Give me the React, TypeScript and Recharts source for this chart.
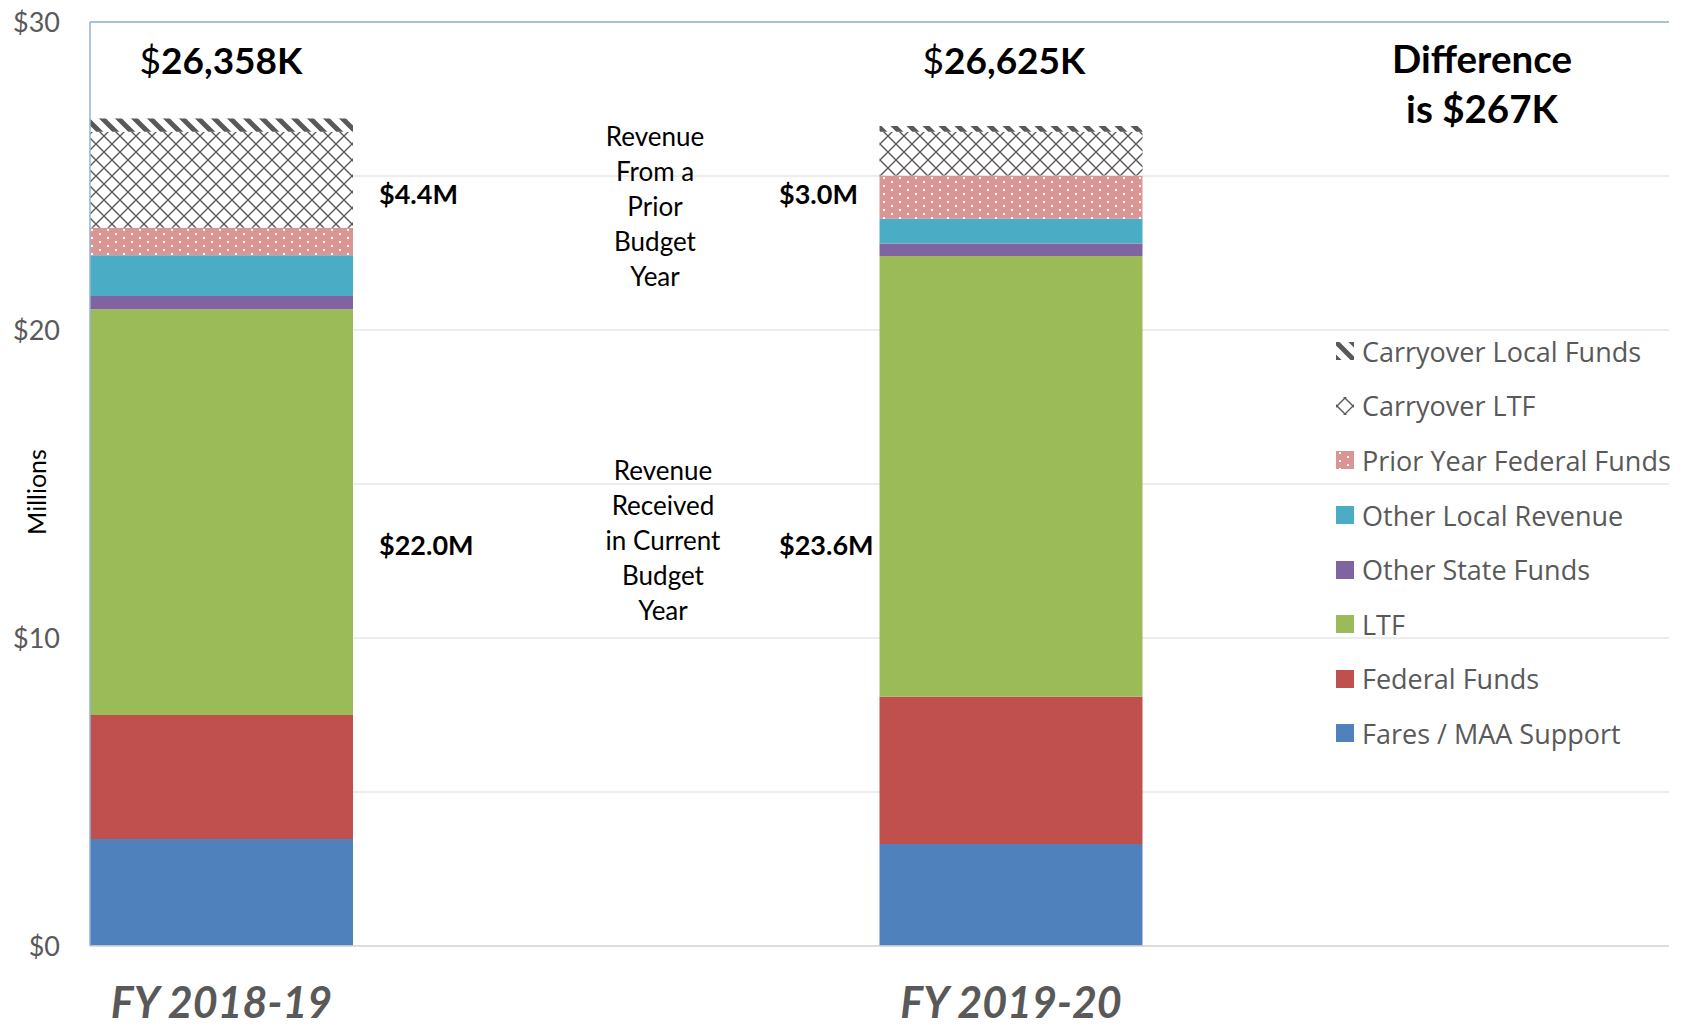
import React from "react";
import { BarChart, Bar, XAxis, YAxis, CartesianGrid, ReferenceLine } from "recharts";

// six equal bands: bars sit in the 1st and 4th, the rest is room for notes + legend
const categories = ["FY 2018-19", "gap-1", "gap-2", "FY 2019-20", "gap-3", "gap-4"];
const fiscalYears = ["FY 2018-19", "FY 2019-20"];

// $ millions (bottom of stack first)
const faresMaa = [3.47, 3.31];
const federalFunds = [4.03, 4.78];
const ltf = [13.17, 14.31];
const otherStateFunds = [0.43, 0.41];
const otherLocalRevenue = [1.33, 0.8];
const priorYearFederal = [0.89, 1.41];
const carryoverLtf = [3.12, 1.42];
const carryoverLocal = [0.43, 0.18];

const yTicks = [0, 5, 10, 15, 20, 25, 30];

const totalLabels = ["26,358K", "26,625K"];
const priorLabels = ["$4.4M", "$3.0M"];
const currentLabels = ["$22.0M", "$23.6M"];
const differenceLines = ["Difference", "is $267K"];
const priorNote = ["Revenue", "From a", "Prior", "Budget", "Year"];
const currentNote = ["Revenue", "Received", "in Current", "Budget", "Year"];

const FONT = "Lato, 'Open Sans', sans-serif";
const LEGEND_FONT = "'Open Sans', Lato, sans-serif";
const GRAY = "#595959";
const BORDER = "#95B3D7";

const series = [
  { key: "fares", name: "Fares / MAA Support", values: faresMaa, fill: "#4F81BD" },
  { key: "federal", name: "Federal Funds", values: federalFunds, fill: "#C0504D" },
  { key: "ltf", name: "LTF", values: ltf, fill: "#9BBB59" },
  { key: "otherState", name: "Other State Funds", values: otherStateFunds, fill: "#8064A2" },
  { key: "otherLocal", name: "Other Local Revenue", values: otherLocalRevenue, fill: "#4BACC6" },
  { key: "priorFed", name: "Prior Year Federal Funds", values: priorYearFederal, fill: "url(#pat-dots)" },
  { key: "carryLtf", name: "Carryover LTF", values: carryoverLtf, fill: "url(#pat-diamond)", icon: "url(#pat-diamond-icon)" },
  { key: "carryLocal", name: "Carryover Local Funds", values: carryoverLocal, fill: "url(#pat-stripe)" },
];

const data = categories.map((name) => {
  const i = fiscalYears.indexOf(name);
  const row: Record<string, string | number> = { name };
  if (i >= 0) series.forEach((s) => (row[s.key] = s.values[i]));
  return row;
});

// the svg is pulled over the body margin so it covers the whole page
const W = 1698;
const H = 1027;

function Patterns() {
  return (
    <defs>
      <pattern id="pat-dots" width="16" height="8" patternUnits="userSpaceOnUse">
        <rect width="16" height="8" fill="#D99694" />
        <rect x="3" y="1" width="2" height="2" fill="#fff" />
        <rect x="11" y="5" width="2" height="2" fill="#fff" />
      </pattern>
      <pattern id="pat-diamond" width="16" height="16" patternUnits="userSpaceOnUse">
        <rect width="16" height="16" fill="#fff" />
        <path d="M0,0 L16,16 M16,0 L0,16" stroke={GRAY} strokeWidth="1.4" />
      </pattern>
      <pattern id="pat-diamond-icon" x="1" y="9" width="16" height="16" patternUnits="userSpaceOnUse">
        <rect width="16" height="16" fill="#fff" />
        <path d="M0,0 L16,16 M16,0 L0,16" stroke={GRAY} strokeWidth="1.4" />
      </pattern>
      <pattern id="pat-stripe" width="16" height="16" patternUnits="userSpaceOnUse">
        <rect width="16" height="16" fill="#fff" />
        <path d="M-4,-4 L20,20 M-4,12 L4,20 M12,-4 L20,4" stroke={GRAY} strokeWidth="5" />
      </pattern>
    </defs>
  );
}

function Notes() {
  const bold = { fontFamily: FONT, fontWeight: 700, fill: "#000" } as const;
  const reg = { fontFamily: FONT, fontWeight: 400, fill: "#000" } as const;
  return (
    <g>
      {[221, 1004].map((x, i) => (
        <text key={"t" + i} x={x} y={74} textAnchor="middle" fontSize={37} {...bold}>
          <tspan fontWeight={400}>$</tspan>
          {totalLabels[i]}
        </text>
      ))}
      {differenceLines.map((t, i) => (
        <text key={"d" + i} x={1482} y={73 + i * 50} textAnchor="middle" fontSize={38.5} {...bold}>
          {t}
        </text>
      ))}
      {[379, 779].map((x, i) => (
        <React.Fragment key={"p" + i}>
          <text x={x} y={204} fontSize={27} {...bold}>{priorLabels[i]}</text>
          <text x={x} y={555} fontSize={27} {...bold}>{currentLabels[i]}</text>
        </React.Fragment>
      ))}
      {priorNote.map((t, i) => (
        <text key={"pn" + i} x={655} y={146 + i * 35} textAnchor="middle" fontSize={26} {...reg}>
          {t}
        </text>
      ))}
      {currentNote.map((t, i) => (
        <text key={"cn" + i} x={663} y={480 + i * 35} textAnchor="middle" fontSize={26} {...reg}>
          {t}
        </text>
      ))}
      <text
        x={36}
        y={492}
        transform="rotate(-90 36 492)"
        textAnchor="middle"
        dominantBaseline="central"
        fontSize={25}
        {...reg}
      >
        Millions
      </text>
    </g>
  );
}

function LegendBox() {
  const items = [...series].reverse();
  return (
    <div style={{ position: "absolute", left: 1336, top: 324, fontFamily: LEGEND_FONT }}>
      {items.map((s) => (
        <div key={s.key} style={{ display: "flex", alignItems: "center", height: 54.6 }}>
          <svg width={18} height={18} style={{ marginRight: 8, flex: "none" }}>
            <rect width={18} height={18} fill={s.icon ?? s.fill} />
          </svg>
          <span style={{ fontSize: 27, color: GRAY, whiteSpace: "nowrap", lineHeight: 1 }}>{s.name}</span>
        </div>
      ))}
    </div>
  );
}

export default function App() {
  return (
    <div style={{ position: "relative", width: W, height: H, margin: "-8px 0 0 -8px" }}>
      <BarChart
        width={W}
        height={H}
        data={data}
        margin={{ top: 22, right: 29, bottom: 0, left: 0 }}
        barCategoryGap={0}
      >
        <Patterns />
        <CartesianGrid vertical={false} stroke="#E6E6E6" strokeWidth={1.5} />
        <XAxis
          dataKey="name"
          ticks={fiscalYears}
          height={81}
          tickLine={false}
          tickSize={0}
          tickMargin={41}
          axisLine={{ stroke: "#D9D9D9", strokeWidth: 1.5 }}
          tick={{ fontFamily: FONT, fontSize: 43, fontWeight: 700, fontStyle: "italic", fill: GRAY }}
        />
        <YAxis
          domain={[0, 30]}
          ticks={yTicks}
          width={90}
          tickLine={false}
          tickSize={0}
          tickMargin={30}
          axisLine={{ stroke: BORDER, strokeWidth: 1.5 }}
          tickFormatter={(v: number) => (v % 10 === 0 ? `$${v}` : "")}
          tick={{ fontFamily: FONT, fontSize: 27, fill: GRAY }}
        />
        {series.map((s) => (
          <Bar key={s.key} dataKey={s.key} name={s.name} stackId="rev" fill={s.fill} isAnimationActive={false} />
        ))}
        <ReferenceLine y={30} stroke={BORDER} strokeWidth={1.5} />
        <ReferenceLine x="gap-4" position="end" stroke={BORDER} strokeWidth={1.5} />
        <Notes />
      </BarChart>
      <LegendBox />
    </div>
  );
}
